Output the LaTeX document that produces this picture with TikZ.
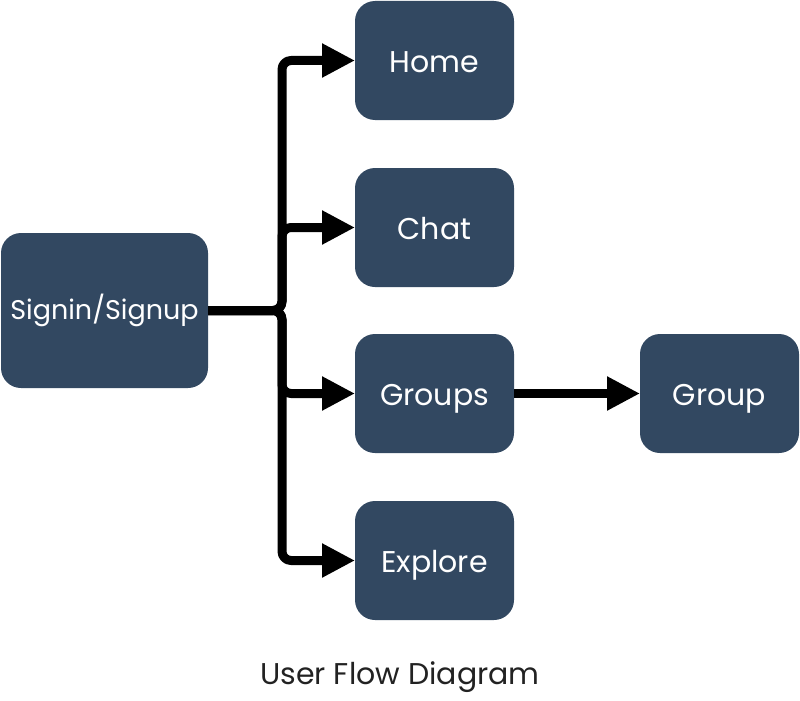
\documentclass[tikz,border=0pt]{standalone}
\usepackage{fontspec}
\setmainfont{Poppins}
\usetikzlibrary{arrows.meta}
\definecolor{boxfill}{HTML}{324861}
\definecolor{captioncol}{HTML}{222222}
\tikzset{
  flowbox/.style={draw=none, fill=boxfill, rounded corners=20pt, text=white,
    font=\fontsize{30}{34}\selectfont, inner sep=0pt, outer sep=0pt, align=center},
  smallbox/.style={flowbox, minimum width=159pt, minimum height=119pt,
    text height=27pt, text depth=4pt},
  flowarrow/.style={line width=9pt, rounded corners=9pt, line join=round,
    -{Triangle[length=33pt,width=32pt]}},
}
\begin{document}
\begin{tikzpicture}[x=1pt,y=-1pt]
\useasboundingbox (0,0) rectangle (800,701);
\node[flowbox, minimum width=207pt, minimum height=155pt, font=\fontsize{27}{31}\selectfont] (signin) at (104.5,310.5) {Signin/Signup};
\node[smallbox] (home) at (434.5,60.5) {Home};
\node[smallbox] (chat) at (434.5,227.5) {Chat};
\node[smallbox] (groups) at (434.5,393.5) {Groups};
\node[smallbox] (explore) at (434.5,560.5) {Explore};
\node[smallbox] (group) at (719.5,393.5) {Group};
\node[text=captioncol, font=\fontsize{30}{34}\selectfont] (caption) at (400,677) {User Flow Diagram};
\draw[flowarrow] (signin.east) -- ++(74,0) |- (home.west);
\draw[flowarrow] (signin.east) -- ++(74,0) |- (chat.west);
\draw[flowarrow] (signin.east) -- ++(74,0) |- (groups.west);
\draw[flowarrow] (signin.east) -- ++(74,0) |- (explore.west);
\draw[flowarrow] (groups.east) -- (group.west);
\end{tikzpicture}
\end{document}
